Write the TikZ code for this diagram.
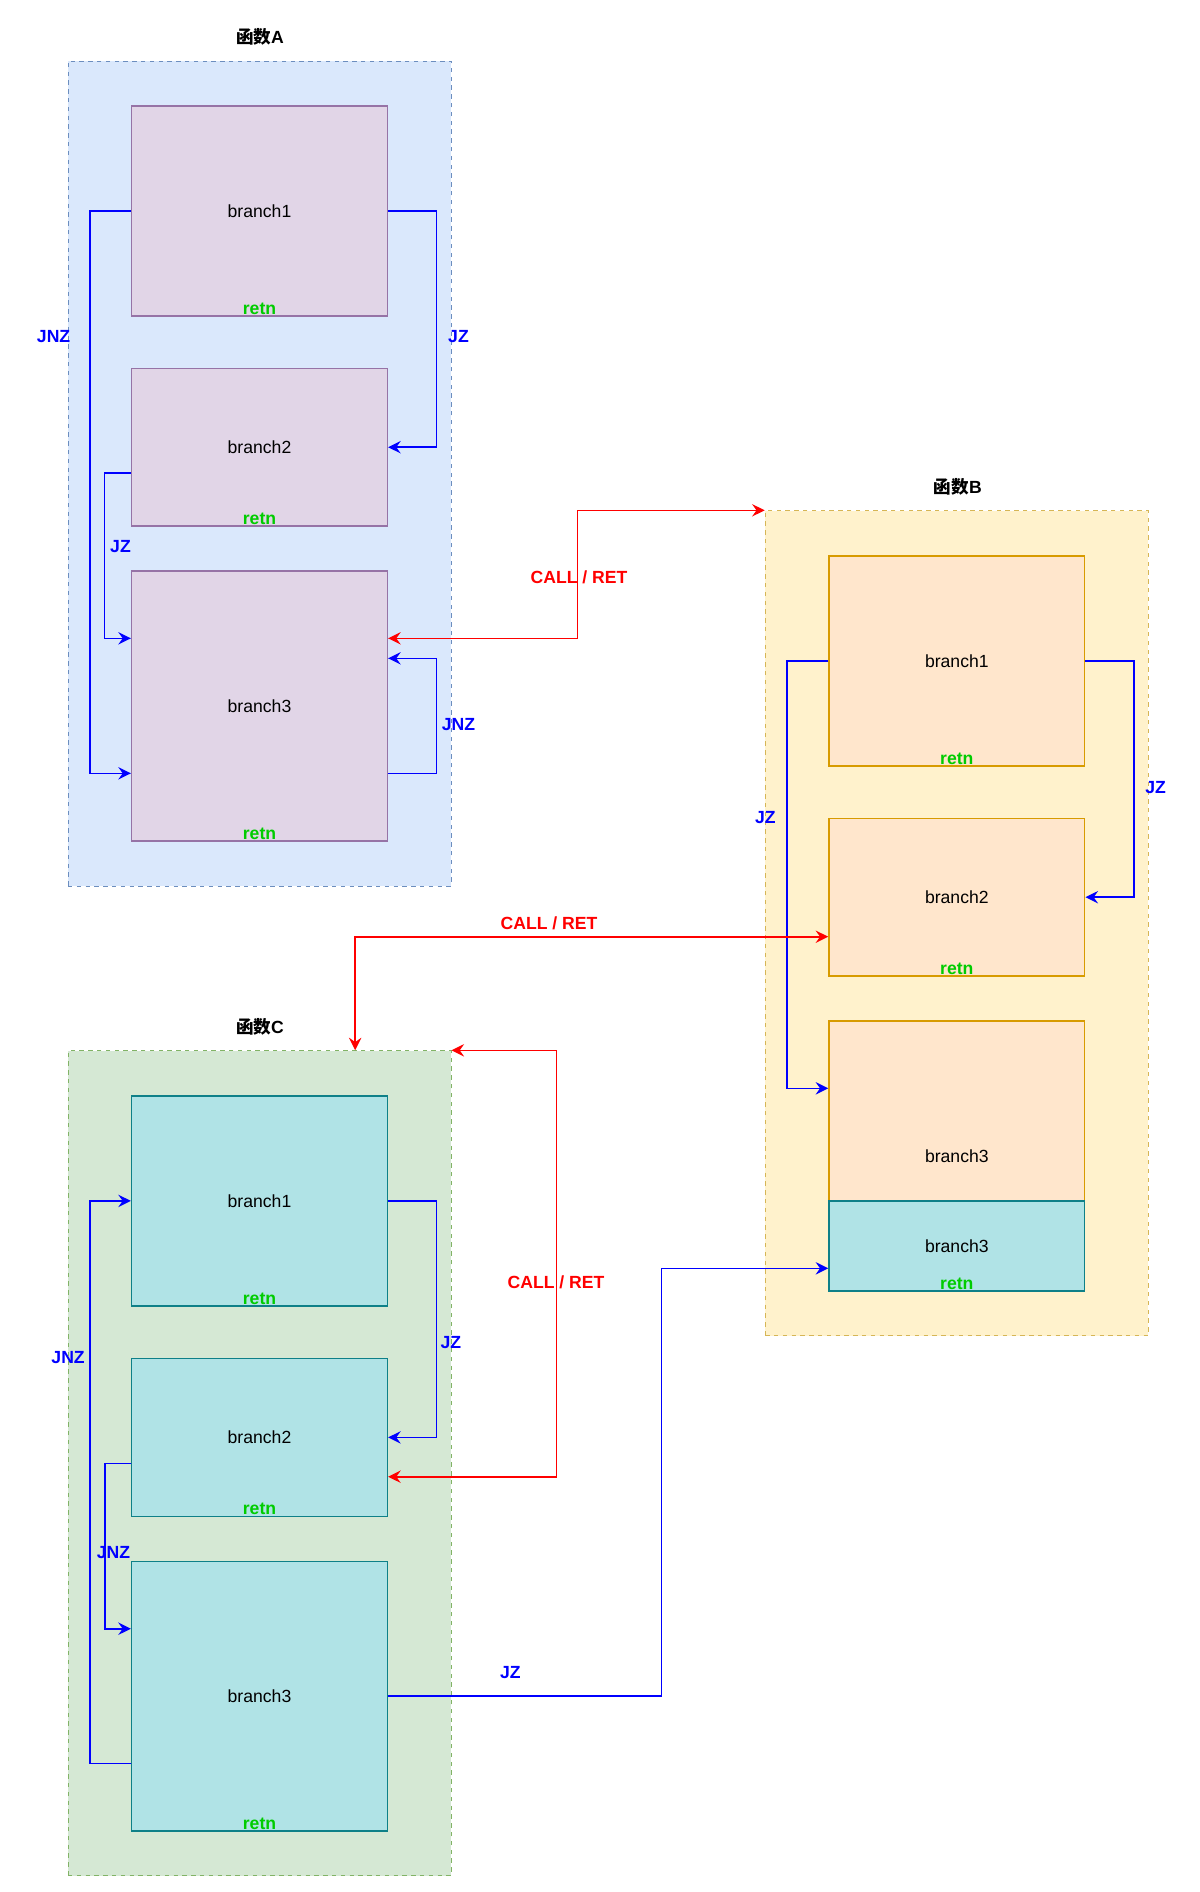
\documentclass[tikz,border=0pt]{standalone}
\usepackage{fontspec}
\setmainfont{Liberation Sans}
\newfontfamily\cjk{Noto Sans CJK SC}
\usetikzlibrary{arrows.meta,positioning}

\definecolor{fillA}{HTML}{DAE8FC}
\definecolor{lineA}{HTML}{6C8EBF}
\definecolor{fillB}{HTML}{FFF2CC}
\definecolor{lineB}{HTML}{D6B656}
\definecolor{fillC}{HTML}{D5E8D4}
\definecolor{lineC}{HTML}{82B366}
\definecolor{purplefill}{HTML}{E1D5E7}
\definecolor{purpleline}{HTML}{9673A6}
\definecolor{orangefill}{HTML}{FFE6CC}
\definecolor{orangeline}{HTML}{D79B00}
\definecolor{tealfill}{HTML}{B0E3E6}
\definecolor{tealline}{HTML}{0E8088}
\definecolor{retngreen}{HTML}{00CC00}

\tikzset{
  txt/.style={font=\fontsize{8.8}{10.5}\selectfont},
  group/.style={draw, dash pattern=on 2.2pt off 2.2pt, line width=0.5pt,
    minimum width=191.5pt, minimum height=412.5pt, inner sep=0pt},
  branch/.style={txt, draw, line width=0.75pt, minimum width=127.85pt, inner sep=0pt},
  purplebox/.style={branch, fill=purplefill, draw=purpleline},
  orangebox/.style={branch, fill=orangefill, draw=orangeline},
  tealbox/.style={branch, fill=tealfill, draw=tealline},
  title/.style={txt, font=\fontsize{8.8}{10.5}\selectfont\bfseries},
  retn/.style={txt, font=\fontsize{8.8}{10.5}\selectfont\bfseries, text=retngreen,
    inner sep=0pt, anchor=base},
  jlabel/.style={txt, font=\fontsize{8.8}{10.5}\selectfont\bfseries, text=blue, inner sep=0pt},
  clabel/.style={txt, font=\fontsize{8.8}{10.5}\selectfont\bfseries, text=red, inner sep=0pt},
  jump/.style={draw=blue, line width=0.8pt, ->},
  call/.style={draw=red, line width=0.8pt, <->},
}

\begin{document}
\begin{tikzpicture}[x=0.5pt, y=-0.5pt, >={Stealth[length=6.3pt, width=6.2pt, inset=2.2pt]}]
  \useasboundingbox (0,0) rectangle (1200,1892);

  % function groups
  \node[group, fill=fillA, draw=lineA] (gA) at (259.5,473.5) {};
  \node[group, fill=fillB, draw=lineB] (gB) at (956.7,923.3) {};
  \node[group, fill=fillC, draw=lineC] (gC) at (259.5,1463.3) {};
  \node[title] (tA) at (260,37) {{\cjk 函数}A};
  \node[title] (tB) at (957.8,487.3) {{\cjk 函数}B};
  \node[title] (tC) at (260,1027.3) {{\cjk 函数}C};

  % branches of A
  \node[purplebox, minimum height=104.85pt] (a1) at (259.5,210.9) {branch1};
  \node[purplebox, minimum height=78.85pt] (a2) at (259.5,447.2) {branch2};
  \node[purplebox, minimum height=134.85pt] (a3) at (259.5,705.9) {branch3};

  % branches of B
  \node[orangebox, minimum height=104.85pt] (b1) at (956.85,660.9) {branch1};
  \node[orangebox, minimum height=78.85pt] (b2) at (956.85,897.2) {branch2};
  \node[orangebox, minimum height=134.85pt] (b3) at (956.85,1156) {branch3};
  \node[tealbox, minimum height=45.15pt] (b3c) at (956.85,1245.9) {branch3};

  % branches of C
  \node[tealbox, minimum height=104.85pt] (c1) at (259.5,1200.9) {branch1};
  \node[tealbox, minimum height=78.85pt] (c2) at (259.5,1437.4) {branch2};
  \node[tealbox, minimum height=134.85pt] (c3) at (259.5,1696.2) {branch3};

  \foreach \n in {a1,a2,a3,b1,b2,b3c,c1,c2,c3}
    \node[retn, yshift=1.2pt] (\n-retn) at (\n.south) {retn};

  % jumps inside A
  \draw[jump] (a1.west) -- ++(-41,0) |- ([yshift=-33.7pt]a3.west);
  \draw[jump] (a1.east) -- ++(48.2,0) |- (a2.east);
  \draw[jump] ([yshift=-12.9pt]a2.west) -- ++(-26.4,0) |- ([yshift=33.8pt]a3.west);
  \draw[jump] ([yshift=-33.7pt]a3.east) -- ++(48.2,0) |- ([yshift=23.8pt]a3.east);
  \node[jlabel] (lA1) at (53.6,337) {JNZ};
  \node[jlabel] (lA2) at (458.5,337) {JZ};
  \node[jlabel] (lA3) at (120.5,547) {JZ};
  \node[jlabel] (lA4) at (458.5,724.3) {JNZ};

  % jumps inside B
  \draw[jump] (b1.west) -- ++(-41.3,0) |- ([yshift=33.85pt]b3.west);
  \draw[jump] (b1.east) -- ++(48.5,0) |- (b2.east);
  \node[jlabel] (lB1) at (765.3,817.7) {JZ};
  \node[jlabel] (lB2) at (1155.7,787.3) {JZ};

  % jumps inside C
  \draw[jump] ([yshift=-33.55pt]c3.west) -- ++(-41,0) |- (c1.west);
  \draw[jump] (c1.east) -- ++(48.2,0) |- (c2.east);
  \draw[jump] ([yshift=-12.95pt]c2.west) -- ++(-25.8,0) |- ([yshift=33.75pt]c3.west);
  \draw[jump] (c3.east) -- ++(273.4,0) |- ([yshift=-11.2pt]b3c.west);
  \node[jlabel] (lC1) at (68.1,1357.3) {JNZ};
  \node[jlabel] (lC2) at (450.8,1342.3) {JZ};
  \node[jlabel] (lC3) at (113.4,1552.7) {JNZ};
  \node[jlabel] (lC4) at (510.3,1672.3) {JZ};

  % calls between functions
  \draw[call] ([yshift=33.8pt]a3.east) -- ++(189.4,0) |- (gB.north west);
  \draw[call] ([yshift=-19.75pt]b2.west) -| ([xshift=47.85pt]gC.north);
  \draw[call] ([yshift=-19.65pt]c2.east) -- ++(168.5,0) |- (gC.north east);
  \node[clabel] (lCall1) at (579,577) {CALL / RET};
  \node[clabel] (lCall2) at (549,923) {CALL / RET};
  \node[clabel] (lCall3) at (556,1282.7) {CALL / RET};
\end{tikzpicture}
\end{document}
